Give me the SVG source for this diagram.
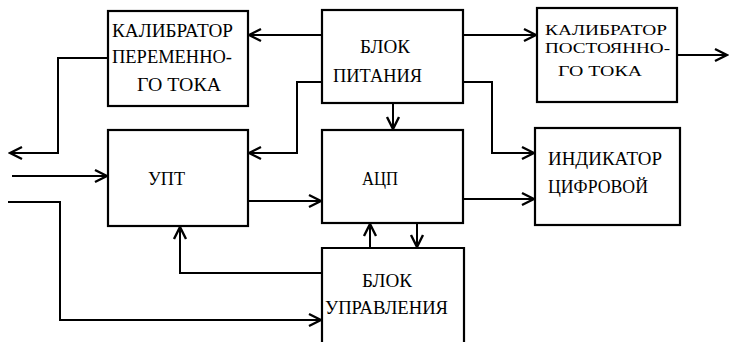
<svg xmlns="http://www.w3.org/2000/svg" width="730" height="342" viewBox="0 0 730 342">
<style>
.box{fill:none;stroke:#000;stroke-width:2.2}
.ln{fill:none;stroke:#000;stroke-width:2;marker-end:url(#arr)}
.t{font-family:'Liberation Serif','DejaVu Serif',serif;font-size:19px;fill:#000}
.s{font-size:15px}
</style>
<defs>
<marker id="arr" markerUnits="userSpaceOnUse" markerWidth="16" markerHeight="16" viewBox="-1 -8 14 16" refX="12" refY="0" orient="auto">
<path d="M0,-6 L12,0 L0,6" fill="none" stroke="#000" stroke-width="2.4"/>
</marker>
</defs>
<rect width="730" height="342" fill="#fff"/>
<g id="kal-per" class="t">
<rect class="box" x="108" y="11" width="140" height="95"/>
<text x="112" y="37" textLength="121" lengthAdjust="spacingAndGlyphs">КАЛИБРАТОР</text>
<text x="112" y="63" textLength="120" lengthAdjust="spacingAndGlyphs">ПЕРЕМЕННО-</text>
<text x="137" y="91" textLength="84" lengthAdjust="spacingAndGlyphs">ГО ТОКА</text>
</g>
<g id="blok-pit" class="t">
<rect class="box" x="322" y="10" width="141" height="93"/>
<text x="360" y="53" textLength="50" lengthAdjust="spacingAndGlyphs">БЛОК</text>
<text x="333" y="82" textLength="89" lengthAdjust="spacingAndGlyphs">ПИТАНИЯ</text>
</g>
<g id="kal-post" class="t s">
<rect class="box" x="537" y="8" width="140" height="94"/>
<text x="545" y="35" textLength="122" lengthAdjust="spacingAndGlyphs">КАЛИБРАТОР</text>
<text x="545" y="53" textLength="125" lengthAdjust="spacingAndGlyphs">ПОСТОЯННО-</text>
<text x="558" y="76" textLength="84" lengthAdjust="spacingAndGlyphs">ГО ТОКА</text>
</g>
<g id="upt" class="t">
<rect class="box" x="108" y="130" width="140" height="96"/>
<text x="148" y="185" textLength="37" lengthAdjust="spacingAndGlyphs">УПТ</text>
</g>
<g id="acp" class="t">
<rect class="box" x="322" y="130" width="141" height="93"/>
<text x="362" y="185" textLength="36" lengthAdjust="spacingAndGlyphs">АЦП</text>
</g>
<g id="indikator" class="t">
<rect class="box" x="535" y="128" width="145" height="97"/>
<text x="548" y="165" textLength="114" lengthAdjust="spacingAndGlyphs">ИНДИКАТОР</text>
<text x="548" y="193" textLength="100" lengthAdjust="spacingAndGlyphs">ЦИФРОВОЙ</text>
</g>
<g id="blok-upr" class="t">
<path class="box" d="M322,345 V248 H464 V345"/>
<text x="362" y="287" textLength="50" lengthAdjust="spacingAndGlyphs">БЛОК</text>
<text x="325" y="314" textLength="123" lengthAdjust="spacingAndGlyphs">УПРАВЛЕНИЯ</text>
</g>
<g id="connectors">
<path class="ln" d="M322,35 H249"/>
<path class="ln" d="M463,35 H536"/>
<path class="ln" d="M677,55 H727"/>
<path class="ln" d="M322,82 H297 V153 H249"/>
<path class="ln" d="M463,82 H492 V153 H534"/>
<path class="ln" d="M393,103 V129"/>
<path class="ln" d="M108,58 H58 V153 H10"/>
<path class="ln" d="M12,176 H107"/>
<path class="ln" d="M8,202 H60 V320 H321"/>
<path class="ln" d="M248,201 H321"/>
<path class="ln" d="M463,199 H534"/>
<path class="ln" d="M322,273 H180 V227"/>
<path class="ln" d="M370,248 V224"/>
<path class="ln" d="M417,223 V247"/>
</g>
</svg>
